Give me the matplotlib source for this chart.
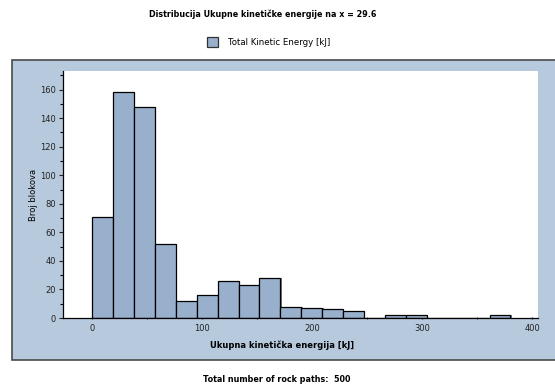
import matplotlib.pyplot as plt
import matplotlib.patches as mpatches
import numpy as np

# histogram (bin width ~19 kJ, starting at 0)
bin_edges = np.arange(0, 19 * 21, 19)
counts = [71, 158, 148, 52, 12, 16, 26, 23, 28, 8, 7, 6, 5, 0, 2, 2, 0, 0, 0, 2]

title = "Distribucija Ukupne kinetičke energije na x = 29.6"
legend_label = "Total Kinetic Energy [kJ]"
x_label = "Ukupna kinetička energija [kJ]"
y_label = "Broj blokova"
footer = "Total number of rock paths:  500"

BAR = '#98b0cc'
PANEL = '#b7c9dc'
W, H = 555, 385


def px(x0, y0, x1, y1):
    """pixel box (top-left origin) -> figure fraction [l, b, w, h]"""
    return [x0 / W, 1 - y1 / H, (x1 - x0) / W, (y1 - y0) / H]


fig = plt.figure(figsize=(W / 100, H / 100), dpi=100)
fig.patch.set_facecolor('white')

# grey-blue panel behind the plot (runs off the right edge like the original)
pl, pb, pw, ph = px(12, 60, 560, 360)
fig.patches.append(mpatches.Rectangle((pl, pb), pw, ph, transform=fig.transFigure,
                                      facecolor=PANEL, edgecolor='#4a4a4a',
                                      linewidth=1.2, zorder=-5))

ax = fig.add_axes(px(63, 71, 538, 318))
ax.set_zorder(2)
ax.set_facecolor('white')

left = bin_edges[:-1]
widths = np.diff(bin_edges)
# faint shadow, then the bars
ax.bar(left + 1.2, counts, width=widths, bottom=0, align='edge',
       color='#6d7680', linewidth=0, zorder=1)
ax.bar(left, counts, width=widths, align='edge', color=BAR,
       edgecolor='black', linewidth=0.9, zorder=2)

ax.set_xlim(-26.5, 405)
ax.set_ylim(0, 173)
ax.set_xticks([0, 100, 200, 300, 400])
ax.set_xticks([50, 150, 250, 350], minor=True)
ax.set_yticks(np.arange(0, 161, 20))
ax.set_yticks(np.arange(10, 171, 20), minor=True)
for s in ('top', 'right'):
    ax.spines[s].set_visible(False)
ax.spines['left'].set_linewidth(0.9)
ax.spines['bottom'].set_linewidth(0.9)
ax.tick_params(axis='both', labelsize=6, width=0.8, pad=2, colors='#222222')
ax.tick_params(axis='y', which='major', length=3)
ax.tick_params(axis='y', which='minor', length=2, width=0.8)
ax.tick_params(axis='x', which='both', length=2, direction='inout', pad=3)
ax.set_ylabel(y_label, fontsize=6, labelpad=1.5)

fig.text(282 / W, 1 - 345 / H, x_label, ha='center', va='center',
         fontsize=6, fontweight='bold', zorder=3)
fig.text(263 / W, 1 - 14 / H, title, ha='center', va='center',
         fontsize=5.8, fontweight='bold')
fig.text(277 / W, 1 - 380 / H, footer, ha='center', va='center',
         fontsize=5.8, fontweight='bold')

# legend entry
lx, ly, lw, lh = px(207, 37, 218, 47)
fig.patches.append(mpatches.Rectangle((lx, ly), lw, lh, transform=fig.transFigure,
                                      facecolor=BAR, edgecolor='#333333',
                                      linewidth=0.9))
fig.text(228 / W, 1 - 42.5 / H, legend_label, ha='left', va='center',
         fontsize=6.2)

fig.savefig('out.png', dpi=100)
